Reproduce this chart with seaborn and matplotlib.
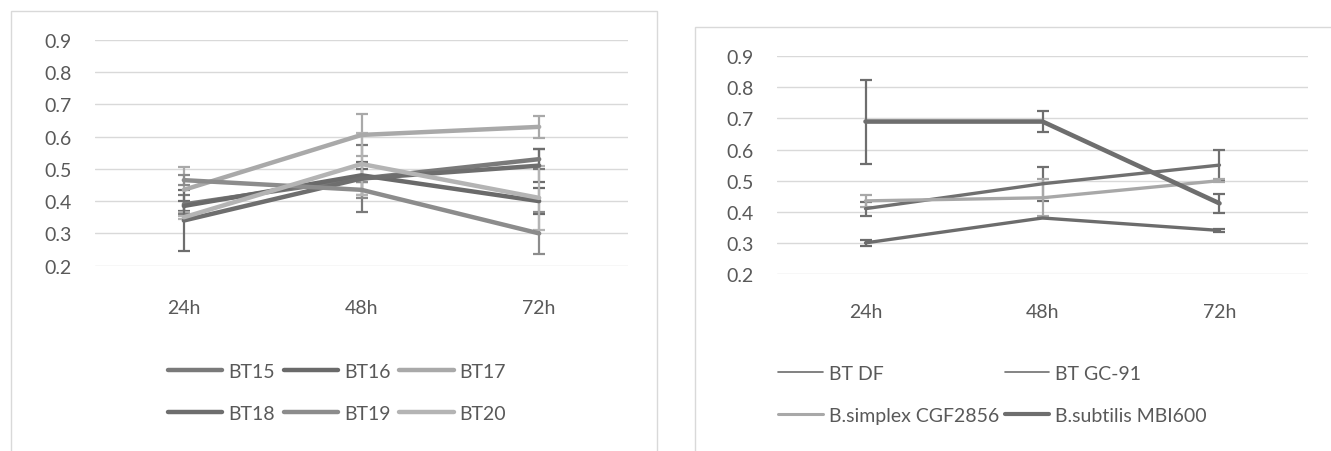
#Germination / growth readings at 24h, 48h and 72h
#Two line charts with error bars, greyscale, side by side

import numpy as np
import pandas as pd
import matplotlib
matplotlib.use("Agg")
import matplotlib.pyplot as plt
from matplotlib.patches import Rectangle
import seaborn as sns

#Time points on the x axis
times = ["24h", "48h", "72h"]

#Left chart: BT15 - BT20 (mean values and error bar half-lengths)
bt15 = [0.39, 0.47, 0.53]
bt15_err = [0.03, 0.105, 0.03]
bt16 = [0.385, 0.48, 0.40]
bt16_err = [0.015, 0.02, 0.04]
bt17 = [0.435, 0.605, 0.63]
bt17_err = [0.07, 0.065, 0.035]
bt18 = [0.34, 0.47, 0.51]
bt18_err = [0.095, 0.05, 0.05]
bt19 = [0.465, 0.435, 0.30]
bt19_err = [0.015, 0.025, 0.065]
bt20 = [0.35, 0.515, 0.41]
bt20_err = [0.005, 0.095, 0.10]

left_names = ["BT15", "BT16", "BT17", "BT18", "BT19", "BT20"]
left_values = [bt15, bt16, bt17, bt18, bt19, bt20]
left_errors = [bt15_err, bt16_err, bt17_err, bt18_err, bt19_err, bt20_err]
left_colors = ["#7a7a7a", "#6a6a6a", "#a9a9a9", "#6e6e6e", "#8c8c8c", "#b4b4b4"]

#Right chart: reference strains
bt_df = [0.30, 0.38, 0.34]
bt_df_err = [0.01, 0.0, 0.005]
bt_gc91 = [0.41, 0.49, 0.55]
bt_gc91_err = [0.022, 0.055, 0.05]
b_simplex = [0.435, 0.445, 0.50]
b_simplex_err = [0.02, 0.06, 0.005]
b_subtilis = [0.69, 0.69, 0.427]
b_subtilis_err = [0.135, 0.035, 0.031]

right_names = ["BT DF", "BT GC-91", "B.simplex CGF2856", "B.subtilis MBI600"]
right_values = [bt_df, bt_gc91, b_simplex, b_subtilis]
right_errors = [bt_df_err, bt_gc91_err, b_simplex_err, b_subtilis_err]
right_colors = ["#6c6c6c", "#707070", "#a8a8a8", "#6e6e6e"]
right_widths = [2.4, 2.4, 2.4, 3.3]
#legend sample widths as they look in the original
right_legend_widths = [1.2, 1.2, 2.2, 3.0]

y_ticks = [0.2, 0.3, 0.4, 0.5, 0.6, 0.7, 0.8, 0.9]

sns.set_theme(style="white")
plt.rcParams["font.family"] = ["Lato", "DejaVu Sans"]
text_grey = "#595959"
grid_grey = "#d9d9d9"
fs = 14

W, H = 1331, 452
fig = plt.figure(figsize=(W / 100, H / 100), dpi=100)

#Chart area borders (Excel style boxes)
fig.add_artist(Rectangle((11 / W, -0.05), (657 - 11) / W, 1.05 - 12 / H,
                         transform=fig.transFigure, fill=False, edgecolor=grid_grey, lw=1))
fig.add_artist(Rectangle((695 / W, -0.05), 0.5, 1.05 - 28 / H,
                         transform=fig.transFigure, fill=False, edgecolor=grid_grey, lw=1))

ax1 = fig.add_axes([95 / W, 1 - 266.7 / H, 533 / W, (266.7 - 40.7) / H])
ax2 = fig.add_axes([777 / W, 1 - 275 / H, 531 / W, (275 - 57.2) / H])


def draw_panel(ax, names, values, errors, colors, widths):
    for name, vals, errs, col, lw in zip(names, values, errors, colors, widths):
        ax.errorbar(times, vals, yerr=errs, fmt="none", ecolor=col, elinewidth=1.6,
                    capsize=4.5, capthick=1.6, zorder=3)
        sns.lineplot(x=times, y=vals, ax=ax, color=col, linewidth=lw, label=name,
                     sort=False, zorder=4)
    ax.set_xlim(-0.5, 2.5)
    ax.set_ylim(0.2, 0.9)
    ax.set_yticks(y_ticks)
    ax.set_yticklabels([f"{t:.1f}" for t in y_ticks])
    ax.grid(axis="y", color=grid_grey, lw=1)
    ax.grid(axis="x", visible=False)
    ax.set_axisbelow(True)
    for s in ax.spines.values():
        s.set_visible(False)
    ax.tick_params(axis="both", length=0, labelsize=fs, labelcolor=text_grey)
    ax.tick_params(axis="y", pad=17)
    ax.set_xlabel("")
    ax.set_ylabel("")


draw_panel(ax1, left_names, left_values, left_errors, left_colors, [3.2] * 6)
draw_panel(ax2, right_names, right_values, right_errors, right_colors, right_widths)
ax1.tick_params(axis="x", pad=24)
ax2.tick_params(axis="x", pad=21)

#Legends under each chart, filled row by row like the original
h1, l1 = ax1.get_legend_handles_labels()
order1 = [0, 3, 1, 4, 2, 5]
ax1.legend([h1[i] for i in order1], [l1[i] for i in order1],
           loc="upper left", bbox_to_anchor=(168 / W, 1 - 364 / H),
           bbox_transform=fig.transFigure, ncol=3, frameon=False, fontsize=fs,
           labelcolor=text_grey, handlelength=2.8, handletextpad=0.3,
           columnspacing=0.45, labelspacing=1.3, borderpad=0, borderaxespad=0)

h2, l2 = ax2.get_legend_handles_labels()
order2 = [0, 2, 1, 3]
leg2 = ax2.legend([h2[i] for i in order2], [l2[i] for i in order2],
                  loc="upper left", bbox_to_anchor=(778 / W, 1 - 366 / H),
                  bbox_transform=fig.transFigure, ncol=2, frameon=False, fontsize=fs,
                  labelcolor=text_grey, handlelength=2.3, handletextpad=0.3,
                  columnspacing=0.3, labelspacing=1.3, borderpad=0, borderaxespad=0)
for line, i in zip(leg2.get_lines(), order2):
    line.set_linewidth(right_legend_widths[i])

plt.savefig("out.png", dpi=100)
